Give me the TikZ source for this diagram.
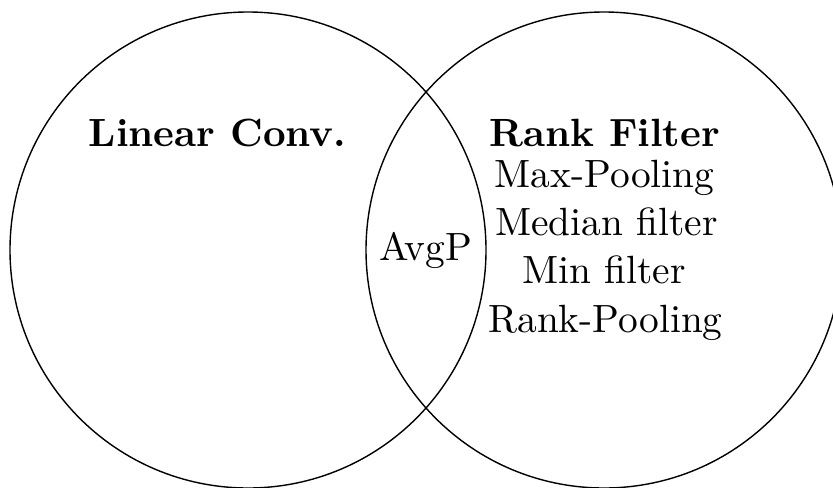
\documentclass[tikz,border=0pt]{standalone}
\begin{document}
\begin{tikzpicture}[x=0.5pt,y=-0.5pt,
  ring/.style={draw=black,line width=0.7pt},
  lbl/.style={anchor=base,inner sep=0pt,scale=1.97,transform shape,font=\fontsize{10}{12}\selectfont},
  hdr/.style={lbl,font=\fontsize{10}{12}\selectfont\bfseries}]
\useasboundingbox (0,0) rectangle (833,487);
\clip (0,0) rectangle (833,487);
\draw[ring] (248,250) circle[radius=238];
\draw[ring] (604,250) circle[radius=238];
\node[hdr] (lin) at (217.5,146) {Linear Conv.};
\node[hdr] (rank) at (604.5,146) {Rank Filter};
\node[lbl] (maxp) at (604.5,187) {Max-Pooling};
\node[lbl] (med) at (606.5,235) {Median filter};
\node[lbl] (minf) at (604,283) {Min filter};
\node[lbl] (rankp) at (605.5,332) {Rank-Pooling};
\node[lbl] (avgp) at (426,260) {AvgP};
\end{tikzpicture}
\end{document}
